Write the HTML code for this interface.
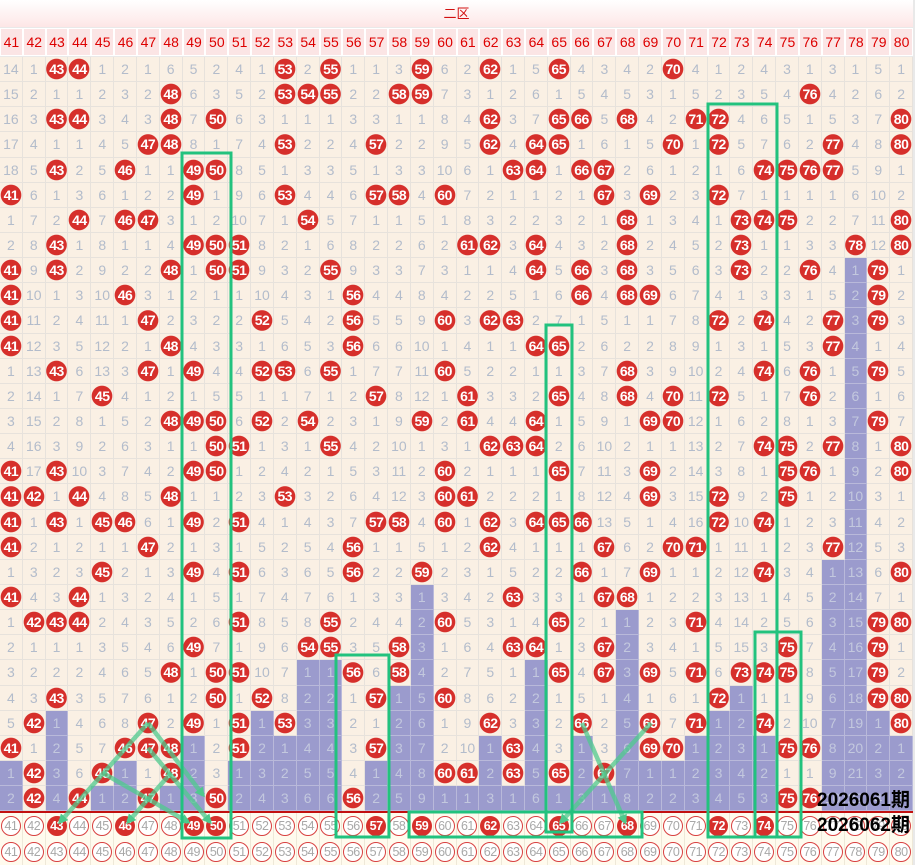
<!DOCTYPE html>
<html><head><meta charset="utf-8">
<style>
*{margin:0;padding:0;box-sizing:border-box}
body{width:915px;height:865px;background:#e9e9e9;position:relative;overflow:hidden;font-family:"Liberation Sans","Noto Sans CJK SC",sans-serif}
#t{position:absolute;left:0;top:0;width:913px;height:27px;background:linear-gradient(#fff,#fde6e6);color:#d21010;font-size:13px;text-align:center;line-height:27px}
#h{position:absolute;left:0;top:28px;width:913px;height:28px;display:grid;grid-template-columns:repeat(40,1fr)}
#h i{font-style:normal;background:#fbe5e5;border:1px solid #fff;color:#d00;font-size:14px;display:flex;align-items:center;justify-content:center}
#g{position:absolute;left:0;top:57px;width:913px;display:grid;grid-template-columns:repeat(40,1fr);grid-auto-rows:25.15px;background:#faf0e4}
#g>*{display:flex;align-items:center;justify-content:center;border-right:1px solid #e7e2dc;border-bottom:1px solid #e7e2dc;font-size:14px;color:#b3bccb;font-style:normal;font-weight:normal;text-decoration:none;background:#faf0e4}
#g>b{background:radial-gradient(circle,#d62f2b 10px,#faf0e4 10.6px);color:#fff;font-weight:bold;letter-spacing:-0.5px}
#g>em{background:#9b9bcd;color:#c3c8de;border-color:#b9b9da}
#r{position:absolute;left:0;top:811px;width:913px;height:2px;background:#c21010}
.bt{position:absolute;left:0;width:913px;height:26px;display:grid;grid-template-columns:repeat(40,1fr);background:#fffbee}
.bt>i{font-style:normal;display:flex;align-items:center;justify-content:center;border-right:1px solid #eee8d8}
.bt>i>span{width:20px;height:20px;border-radius:50%;border:1.5px solid #d84040;background:#fff;color:#a8a8a8;font-size:12.5px;display:flex;align-items:center;justify-content:center;letter-spacing:-0.5px}
.bt>i>span.f{background:#d62f2b;color:#fff;border-color:#d62f2b;font-weight:bold}
.lab{position:absolute;right:5px;font-size:19px;font-weight:bold;color:#000;line-height:22px}
svg{position:absolute;left:0;top:0}
</style></head><body>
<div id="t">二区</div>
<div id="h"><i>41</i><i>42</i><i>43</i><i>44</i><i>45</i><i>46</i><i>47</i><i>48</i><i>49</i><i>50</i><i>51</i><i>52</i><i>53</i><i>54</i><i>55</i><i>56</i><i>57</i><i>58</i><i>59</i><i>60</i><i>61</i><i>62</i><i>63</i><i>64</i><i>65</i><i>66</i><i>67</i><i>68</i><i>69</i><i>70</i><i>71</i><i>72</i><i>73</i><i>74</i><i>75</i><i>76</i><i>77</i><i>78</i><i>79</i><i>80</i></div>
<div id="g">
<i>14</i><i>1</i><b>43</b><b>44</b><i>1</i><i>2</i><i>1</i><i>6</i><i>5</i><i>2</i><i>4</i><i>1</i><b>53</b><i>2</i><b>55</b><i>1</i><i>1</i><i>3</i><b>59</b><i>6</i><i>2</i><b>62</b><i>1</i><i>5</i><b>65</b><i>4</i><i>3</i><i>4</i><i>2</i><b>70</b><i>4</i><i>1</i><i>2</i><i>4</i><i>3</i><i>1</i><i>3</i><i>1</i><i>5</i><i>1</i>
<i>15</i><i>2</i><i>1</i><i>1</i><i>2</i><i>3</i><i>2</i><b>48</b><i>6</i><i>3</i><i>5</i><i>2</i><b>53</b><b>54</b><b>55</b><i>2</i><i>2</i><b>58</b><b>59</b><i>7</i><i>3</i><i>1</i><i>2</i><i>6</i><i>1</i><i>5</i><i>4</i><i>5</i><i>3</i><i>1</i><i>5</i><i>2</i><i>3</i><i>5</i><i>4</i><b>76</b><i>4</i><i>2</i><i>6</i><i>2</i>
<i>16</i><i>3</i><b>43</b><b>44</b><i>3</i><i>4</i><i>3</i><b>48</b><i>7</i><b>50</b><i>6</i><i>3</i><i>1</i><i>1</i><i>1</i><i>3</i><i>3</i><i>1</i><i>1</i><i>8</i><i>4</i><b>62</b><i>3</i><i>7</i><b>65</b><b>66</b><i>5</i><b>68</b><i>4</i><i>2</i><b>71</b><b>72</b><i>4</i><i>6</i><i>5</i><i>1</i><i>5</i><i>3</i><i>7</i><b>80</b>
<i>17</i><i>4</i><i>1</i><i>1</i><i>4</i><i>5</i><b>47</b><b>48</b><i>8</i><i>1</i><i>7</i><i>4</i><b>53</b><i>2</i><i>2</i><i>4</i><b>57</b><i>2</i><i>2</i><i>9</i><i>5</i><b>62</b><i>4</i><b>64</b><b>65</b><i>1</i><i>6</i><i>1</i><i>5</i><b>70</b><i>1</i><b>72</b><i>5</i><i>7</i><i>6</i><i>2</i><b>77</b><i>4</i><i>8</i><b>80</b>
<i>18</i><i>5</i><b>43</b><i>2</i><i>5</i><b>46</b><i>1</i><i>1</i><b>49</b><b>50</b><i>8</i><i>5</i><i>1</i><i>3</i><i>3</i><i>5</i><i>1</i><i>3</i><i>3</i><i>10</i><i>6</i><i>1</i><b>63</b><b>64</b><i>1</i><b>66</b><b>67</b><i>2</i><i>6</i><i>1</i><i>2</i><i>1</i><i>6</i><b>74</b><b>75</b><b>76</b><b>77</b><i>5</i><i>9</i><i>1</i>
<b>41</b><i>6</i><i>1</i><i>3</i><i>6</i><i>1</i><i>2</i><i>2</i><b>49</b><i>1</i><i>9</i><i>6</i><b>53</b><i>4</i><i>4</i><i>6</i><b>57</b><b>58</b><i>4</i><b>60</b><i>7</i><i>2</i><i>1</i><i>1</i><i>2</i><i>1</i><b>67</b><i>3</i><b>69</b><i>2</i><i>3</i><b>72</b><i>7</i><i>1</i><i>1</i><i>1</i><i>1</i><i>6</i><i>10</i><i>2</i>
<i>1</i><i>7</i><i>2</i><b>44</b><i>7</i><b>46</b><b>47</b><i>3</i><i>1</i><i>2</i><i>10</i><i>7</i><i>1</i><b>54</b><i>5</i><i>7</i><i>1</i><i>1</i><i>5</i><i>1</i><i>8</i><i>3</i><i>2</i><i>2</i><i>3</i><i>2</i><i>1</i><b>68</b><i>1</i><i>3</i><i>4</i><i>1</i><b>73</b><b>74</b><b>75</b><i>2</i><i>2</i><i>7</i><i>11</i><b>80</b>
<i>2</i><i>8</i><b>43</b><i>1</i><i>8</i><i>1</i><i>1</i><i>4</i><b>49</b><b>50</b><b>51</b><i>8</i><i>2</i><i>1</i><i>6</i><i>8</i><i>2</i><i>2</i><i>6</i><i>2</i><b>61</b><b>62</b><i>3</i><b>64</b><i>4</i><i>3</i><i>2</i><b>68</b><i>2</i><i>4</i><i>5</i><i>2</i><b>73</b><i>1</i><i>1</i><i>3</i><i>3</i><b>78</b><i>12</i><b>80</b>
<b>41</b><i>9</i><b>43</b><i>2</i><i>9</i><i>2</i><i>2</i><b>48</b><i>1</i><b>50</b><b>51</b><i>9</i><i>3</i><i>2</i><b>55</b><i>9</i><i>3</i><i>3</i><i>7</i><i>3</i><i>1</i><i>1</i><i>4</i><b>64</b><i>5</i><b>66</b><i>3</i><b>68</b><i>3</i><i>5</i><i>6</i><i>3</i><b>73</b><i>2</i><i>2</i><b>76</b><i>4</i><em>1</em><b>79</b><i>1</i>
<b>41</b><i>10</i><i>1</i><i>3</i><i>10</i><b>46</b><i>3</i><i>1</i><i>2</i><i>1</i><i>1</i><i>10</i><i>4</i><i>3</i><i>1</i><b>56</b><i>4</i><i>4</i><i>8</i><i>4</i><i>2</i><i>2</i><i>5</i><i>1</i><i>6</i><b>66</b><i>4</i><b>68</b><b>69</b><i>6</i><i>7</i><i>4</i><i>1</i><i>3</i><i>3</i><i>1</i><i>5</i><em>2</em><b>79</b><i>2</i>
<b>41</b><i>11</i><i>2</i><i>4</i><i>11</i><i>1</i><b>47</b><i>2</i><i>3</i><i>2</i><i>2</i><b>52</b><i>5</i><i>4</i><i>2</i><b>56</b><i>5</i><i>5</i><i>9</i><b>60</b><i>3</i><b>62</b><b>63</b><i>2</i><i>7</i><i>1</i><i>5</i><i>1</i><i>1</i><i>7</i><i>8</i><b>72</b><i>2</i><b>74</b><i>4</i><i>2</i><b>77</b><em>3</em><b>79</b><i>3</i>
<b>41</b><i>12</i><i>3</i><i>5</i><i>12</i><i>2</i><i>1</i><b>48</b><i>4</i><i>3</i><i>3</i><i>1</i><i>6</i><i>5</i><i>3</i><b>56</b><i>6</i><i>6</i><i>10</i><i>1</i><i>4</i><i>1</i><i>1</i><b>64</b><b>65</b><i>2</i><i>6</i><i>2</i><i>2</i><i>8</i><i>9</i><i>1</i><i>3</i><i>1</i><i>5</i><i>3</i><b>77</b><em>4</em><i>1</i><i>4</i>
<i>1</i><i>13</i><b>43</b><i>6</i><i>13</i><i>3</i><b>47</b><i>1</i><b>49</b><i>4</i><i>4</i><b>52</b><b>53</b><i>6</i><b>55</b><i>1</i><i>7</i><i>7</i><i>11</i><b>60</b><i>5</i><i>2</i><i>2</i><i>1</i><i>1</i><i>3</i><i>7</i><b>68</b><i>3</i><i>9</i><i>10</i><i>2</i><i>4</i><b>74</b><i>6</i><b>76</b><i>1</i><em>5</em><b>79</b><i>5</i>
<i>2</i><i>14</i><i>1</i><i>7</i><b>45</b><i>4</i><i>1</i><i>2</i><i>1</i><i>5</i><i>5</i><i>1</i><i>1</i><i>7</i><i>1</i><i>2</i><b>57</b><i>8</i><i>12</i><i>1</i><b>61</b><i>3</i><i>3</i><i>2</i><b>65</b><i>4</i><i>8</i><b>68</b><i>4</i><b>70</b><i>11</i><b>72</b><i>5</i><i>1</i><i>7</i><b>76</b><i>2</i><em>6</em><i>1</i><i>6</i>
<i>3</i><i>15</i><i>2</i><i>8</i><i>1</i><i>5</i><i>2</i><b>48</b><b>49</b><b>50</b><i>6</i><b>52</b><i>2</i><b>54</b><i>2</i><i>3</i><i>1</i><i>9</i><b>59</b><i>2</i><b>61</b><i>4</i><i>4</i><b>64</b><i>1</i><i>5</i><i>9</i><i>1</i><b>69</b><b>70</b><i>12</i><i>1</i><i>6</i><i>2</i><i>8</i><i>1</i><i>3</i><em>7</em><b>79</b><i>7</i>
<i>4</i><i>16</i><i>3</i><i>9</i><i>2</i><i>6</i><i>3</i><i>1</i><i>1</i><b>50</b><b>51</b><i>1</i><i>3</i><i>1</i><b>55</b><i>4</i><i>2</i><i>10</i><i>1</i><i>3</i><i>1</i><b>62</b><b>63</b><b>64</b><i>2</i><i>6</i><i>10</i><i>2</i><i>1</i><i>1</i><i>13</i><i>2</i><i>7</i><b>74</b><b>75</b><i>2</i><b>77</b><em>8</em><i>1</i><b>80</b>
<b>41</b><i>17</i><b>43</b><i>10</i><i>3</i><i>7</i><i>4</i><i>2</i><b>49</b><b>50</b><i>1</i><i>2</i><i>4</i><i>2</i><i>1</i><i>5</i><i>3</i><i>11</i><i>2</i><b>60</b><i>2</i><i>1</i><i>1</i><i>1</i><b>65</b><i>7</i><i>11</i><i>3</i><b>69</b><i>2</i><i>14</i><i>3</i><i>8</i><i>1</i><b>75</b><b>76</b><i>1</i><em>9</em><i>2</i><b>80</b>
<b>41</b><b>42</b><i>1</i><b>44</b><i>4</i><i>8</i><i>5</i><b>48</b><i>1</i><i>1</i><i>2</i><i>3</i><b>53</b><i>3</i><i>2</i><i>6</i><i>4</i><i>12</i><i>3</i><b>60</b><b>61</b><i>2</i><i>2</i><i>2</i><i>1</i><i>8</i><i>12</i><i>4</i><b>69</b><i>3</i><i>15</i><b>72</b><i>9</i><i>2</i><b>75</b><i>1</i><i>2</i><em>10</em><i>3</i><i>1</i>
<b>41</b><i>1</i><b>43</b><i>1</i><b>45</b><b>46</b><i>6</i><i>1</i><b>49</b><i>2</i><b>51</b><i>4</i><i>1</i><i>4</i><i>3</i><i>7</i><b>57</b><b>58</b><i>4</i><b>60</b><i>1</i><b>62</b><i>3</i><b>64</b><b>65</b><b>66</b><i>13</i><i>5</i><i>1</i><i>4</i><i>16</i><b>72</b><i>10</i><b>74</b><i>1</i><i>2</i><i>3</i><em>11</em><i>4</i><i>2</i>
<b>41</b><i>2</i><i>1</i><i>2</i><i>1</i><i>1</i><b>47</b><i>2</i><i>1</i><i>3</i><i>1</i><i>5</i><i>2</i><i>5</i><i>4</i><b>56</b><i>1</i><i>1</i><i>5</i><i>1</i><i>2</i><b>62</b><i>4</i><i>1</i><i>1</i><i>1</i><b>67</b><i>6</i><i>2</i><b>70</b><b>71</b><i>1</i><i>11</i><i>1</i><i>2</i><i>3</i><b>77</b><em>12</em><i>5</i><i>3</i>
<i>1</i><i>3</i><i>2</i><i>3</i><b>45</b><i>2</i><i>1</i><i>3</i><b>49</b><i>4</i><b>51</b><i>6</i><i>3</i><i>6</i><i>5</i><b>56</b><i>2</i><i>2</i><b>59</b><i>2</i><i>3</i><i>1</i><i>5</i><i>2</i><i>2</i><b>66</b><i>1</i><i>7</i><b>69</b><i>1</i><i>1</i><i>2</i><i>12</i><b>74</b><i>3</i><i>4</i><em>1</em><em>13</em><i>6</i><b>80</b>
<b>41</b><i>4</i><i>3</i><b>44</b><i>1</i><i>3</i><i>2</i><i>4</i><i>1</i><i>5</i><i>1</i><i>7</i><i>4</i><i>7</i><i>6</i><i>1</i><i>3</i><i>3</i><em>1</em><i>3</i><i>4</i><i>2</i><b>63</b><i>3</i><i>3</i><i>1</i><b>67</b><b>68</b><i>1</i><i>2</i><i>2</i><i>3</i><i>13</i><i>1</i><i>4</i><i>5</i><em>2</em><em>14</em><i>7</i><i>1</i>
<i>1</i><b>42</b><b>43</b><b>44</b><i>2</i><i>4</i><i>3</i><i>5</i><i>2</i><i>6</i><b>51</b><i>8</i><i>5</i><i>8</i><b>55</b><i>2</i><i>4</i><i>4</i><em>2</em><b>60</b><i>5</i><i>3</i><i>1</i><i>4</i><b>65</b><i>2</i><i>1</i><em>1</em><i>2</i><i>3</i><b>71</b><i>4</i><i>14</i><i>2</i><i>5</i><i>6</i><em>3</em><em>15</em><b>79</b><b>80</b>
<i>2</i><i>1</i><i>1</i><i>1</i><i>3</i><i>5</i><i>4</i><i>6</i><b>49</b><i>7</i><i>1</i><i>9</i><i>6</i><b>54</b><b>55</b><i>3</i><i>5</i><b>58</b><em>3</em><i>1</i><i>6</i><i>4</i><b>63</b><b>64</b><i>1</i><i>3</i><b>67</b><em>2</em><i>3</i><i>4</i><i>1</i><i>5</i><i>15</i><i>3</i><b>75</b><i>7</i><em>4</em><em>16</em><b>79</b><i>1</i>
<i>3</i><i>2</i><i>2</i><i>2</i><i>4</i><i>6</i><i>5</i><b>48</b><i>1</i><b>50</b><b>51</b><i>10</i><i>7</i><em>1</em><em>1</em><b>56</b><i>6</i><b>58</b><em>4</em><i>2</i><i>7</i><i>5</i><i>1</i><em>1</em><b>65</b><i>4</i><b>67</b><em>3</em><b>69</b><i>5</i><b>71</b><i>6</i><b>73</b><b>74</b><b>75</b><i>8</i><em>5</em><em>17</em><b>79</b><i>2</i>
<i>4</i><i>3</i><b>43</b><i>3</i><i>5</i><i>7</i><i>6</i><i>1</i><i>2</i><b>50</b><i>1</i><b>52</b><i>8</i><em>2</em><em>2</em><i>1</i><b>57</b><em>1</em><em>5</em><b>60</b><i>8</i><i>6</i><i>2</i><em>2</em><i>1</i><i>5</i><i>1</i><em>4</em><i>1</i><i>6</i><i>1</i><b>72</b><em>1</em><i>1</i><i>1</i><i>9</i><em>6</em><em>18</em><b>79</b><b>80</b>
<i>5</i><b>42</b><em>1</em><i>4</i><i>6</i><i>8</i><b>47</b><i>2</i><b>49</b><i>1</i><b>51</b><em>1</em><b>53</b><em>3</em><em>3</em><i>2</i><i>1</i><em>2</em><em>6</em><i>1</i><i>9</i><b>62</b><i>3</i><em>3</em><i>2</i><b>66</b><i>2</i><em>5</em><b>69</b><i>7</i><b>71</b><em>1</em><em>2</em><b>74</b><i>2</i><i>10</i><em>7</em><em>19</em><em>1</em><b>80</b>
<b>41</b><i>1</i><em>2</em><i>5</i><i>7</i><b>46</b><b>47</b><b>48</b><em>1</em><i>2</i><b>51</b><em>2</em><em>1</em><em>4</em><em>4</em><i>3</i><b>57</b><em>3</em><em>7</em><i>2</i><i>10</i><em>1</em><b>63</b><em>4</em><i>3</i><em>1</em><i>3</i><em>6</em><b>69</b><b>70</b><em>1</em><em>2</em><em>3</em><em>1</em><b>75</b><b>76</b><em>8</em><em>20</em><em>2</em><em>1</em>
<em>1</em><b>42</b><em>3</em><i>6</i><b>45</b><em>1</em><i>1</i><b>48</b><em>2</em><i>3</i><em>1</em><em>3</em><em>2</em><em>5</em><em>5</em><i>4</i><em>1</em><em>4</em><em>8</em><b>60</b><b>61</b><em>2</em><b>63</b><em>5</em><b>65</b><em>2</em><b>67</b><em>7</em><em>1</em><em>1</em><em>2</em><em>3</em><em>4</em><em>2</em><i>1</i><i>1</i><em>9</em><em>21</em><em>3</em><em>2</em>
<em>2</em><b>42</b><em>4</em><b>44</b><em>1</em><em>2</em><b>47</b><em>1</em><em>3</em><b>50</b><em>2</em><em>4</em><em>3</em><em>6</em><em>6</em><b>56</b><em>2</em><em>5</em><em>9</em><em>1</em><em>1</em><em>3</em><em>1</em><em>6</em><em>1</em><em>3</em><em>1</em><em>8</em><em>2</em><em>2</em><em>3</em><em>4</em><em>5</em><em>3</em><b>75</b><b>76</b><em>10</em><em>22</em><em>4</em><em>3</em>
</div>
<div id="r"></div>
<div class="bt" style="top:813px"><i><span>41</span></i><i><span>42</span></i><i><span class="f">43</span></i><i><span>44</span></i><i><span>45</span></i><i><span class="f">46</span></i><i><span>47</span></i><i><span>48</span></i><i><span class="f">49</span></i><i><span class="f">50</span></i><i><span>51</span></i><i><span>52</span></i><i><span>53</span></i><i><span>54</span></i><i><span>55</span></i><i><span>56</span></i><i><span class="f">57</span></i><i><span>58</span></i><i><span class="f">59</span></i><i><span>60</span></i><i><span>61</span></i><i><span class="f">62</span></i><i><span>63</span></i><i><span>64</span></i><i><span class="f">65</span></i><i><span>66</span></i><i><span>67</span></i><i><span class="f">68</span></i><i><span>69</span></i><i><span>70</span></i><i><span>71</span></i><i><span class="f">72</span></i><i><span>73</span></i><i><span class="f">74</span></i><i><span>75</span></i><i><span>76</span></i><i><span>77</span></i><i><span>78</span></i><i><span>79</span></i><i><span>80</span></i></div>
<div class="bt" style="top:839px"><i><span>41</span></i><i><span>42</span></i><i><span>43</span></i><i><span>44</span></i><i><span>45</span></i><i><span>46</span></i><i><span>47</span></i><i><span>48</span></i><i><span>49</span></i><i><span>50</span></i><i><span>51</span></i><i><span>52</span></i><i><span>53</span></i><i><span>54</span></i><i><span>55</span></i><i><span>56</span></i><i><span>57</span></i><i><span>58</span></i><i><span>59</span></i><i><span>60</span></i><i><span>61</span></i><i><span>62</span></i><i><span>63</span></i><i><span>64</span></i><i><span>65</span></i><i><span>66</span></i><i><span>67</span></i><i><span>68</span></i><i><span>69</span></i><i><span>70</span></i><i><span>71</span></i><i><span>72</span></i><i><span>73</span></i><i><span>74</span></i><i><span>75</span></i><i><span>76</span></i><i><span>77</span></i><i><span>78</span></i><i><span>79</span></i><i><span>80</span></i></div>
<svg width="915" height="865">
<defs><marker id="a" markerUnits="userSpaceOnUse" markerWidth="10" markerHeight="10" refX="7" refY="5" orient="auto"><path d="M0,0 L10,5 L0,10 z" fill="#4fc98d"/></marker></defs>
<g stroke="#4fc98d" stroke-opacity="0.75" stroke-width="4.5" fill="none" marker-end="url(#a)">
<line x1="148" y1="723" x2="60" y2="822"/>
<line x1="148" y1="723" x2="203" y2="795"/>
<line x1="148" y1="748" x2="210" y2="822"/>
<line x1="103" y1="773" x2="188" y2="822"/>
<line x1="171" y1="773" x2="128" y2="822"/>
<line x1="582" y1="723" x2="625" y2="822"/>
<line x1="651" y1="723" x2="561" y2="822"/>
</g>
<g stroke="#22c27e" stroke-width="3" fill="none">
<rect x="182" y="153" width="49" height="685"/>
<rect x="708" y="104" width="69" height="733"/>
<rect x="755" y="632" width="46" height="205"/>
<rect x="546" y="325" width="26" height="507"/>
<rect x="336" y="655" width="53" height="182"/>
<rect x="409" y="812" width="233" height="25"/>
</g>
</svg>
<div class="lab" style="top:790px">2026061期</div>
<div class="lab" style="top:815px">2026062期</div>
</body></html>
